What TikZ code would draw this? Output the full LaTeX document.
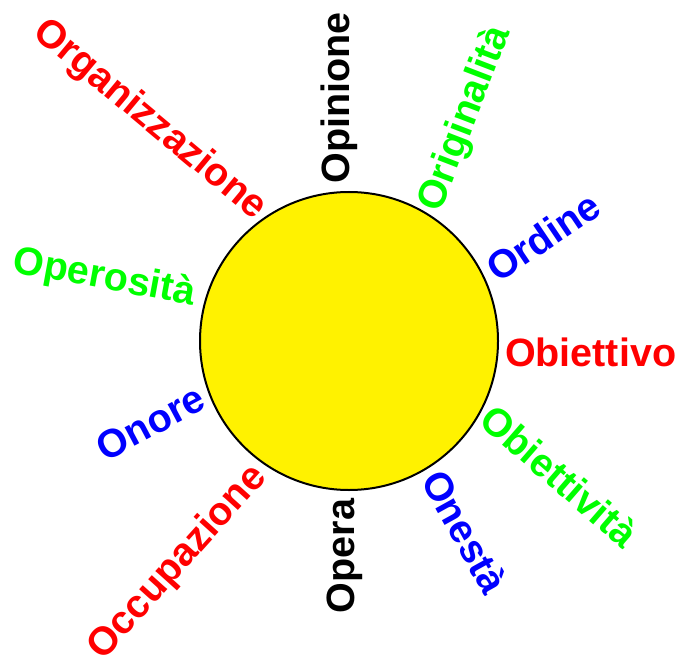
\documentclass[tikz,border=0pt]{standalone}
\usepackage{fontspec}
\setmainfont{Liberation Sans}
\usepackage{tikz}
\usetikzlibrary{positioning}

\begin{document}
\begin{tikzpicture}[x=1pt,y=1pt,
every node/.style={inner sep=0pt,outer sep=0pt,font=\fontsize{39.5}{40}\selectfont\bfseries}]
\useasboundingbox (0,0) rectangle (679,662);
\node[circle,draw,line width=2pt,fill=yellow,minimum size=298pt] (sun) at (349,321) {};
% right half: words start at the sun
\node[red,rotate=0,anchor=base west] (obiettivo) at (505,296) {Obiettivo};
\node[blue,rotate=34,anchor=base west] (ordine) at (498,378) {Ordine};
\node[green,rotate=69,anchor=base west] (originalita) at (440,448) {Originalità};
\node[black,rotate=90,anchor=base west] (opinione) at (349,478.5) {Opinione};
\node[green,rotate=-41,anchor=base west] (obiettivita) at (477,239) {Obiettività};
\node[blue,rotate=-61,anchor=base west] (onesta) at (420,182) {Onestà};
% left half: words end at the sun
\node[black,rotate=90,anchor=base east] (opera) at (354,163) {Opera};
\node[red,rotate=48,anchor=base east] (occupazione) at (267.8,183.5) {Occupazione};
\node[blue,rotate=28,anchor=base east] (onore) at (208.3,254.6) {Onore};
\node[green,rotate=-10.4,anchor=base east] (operosita) at (193.2,356.7) {Operosità};
\node[red,rotate=-39.8,anchor=base east] (organizzazione) at (254.5,441.3) {Organizzazione};
\end{tikzpicture}
\end{document}
